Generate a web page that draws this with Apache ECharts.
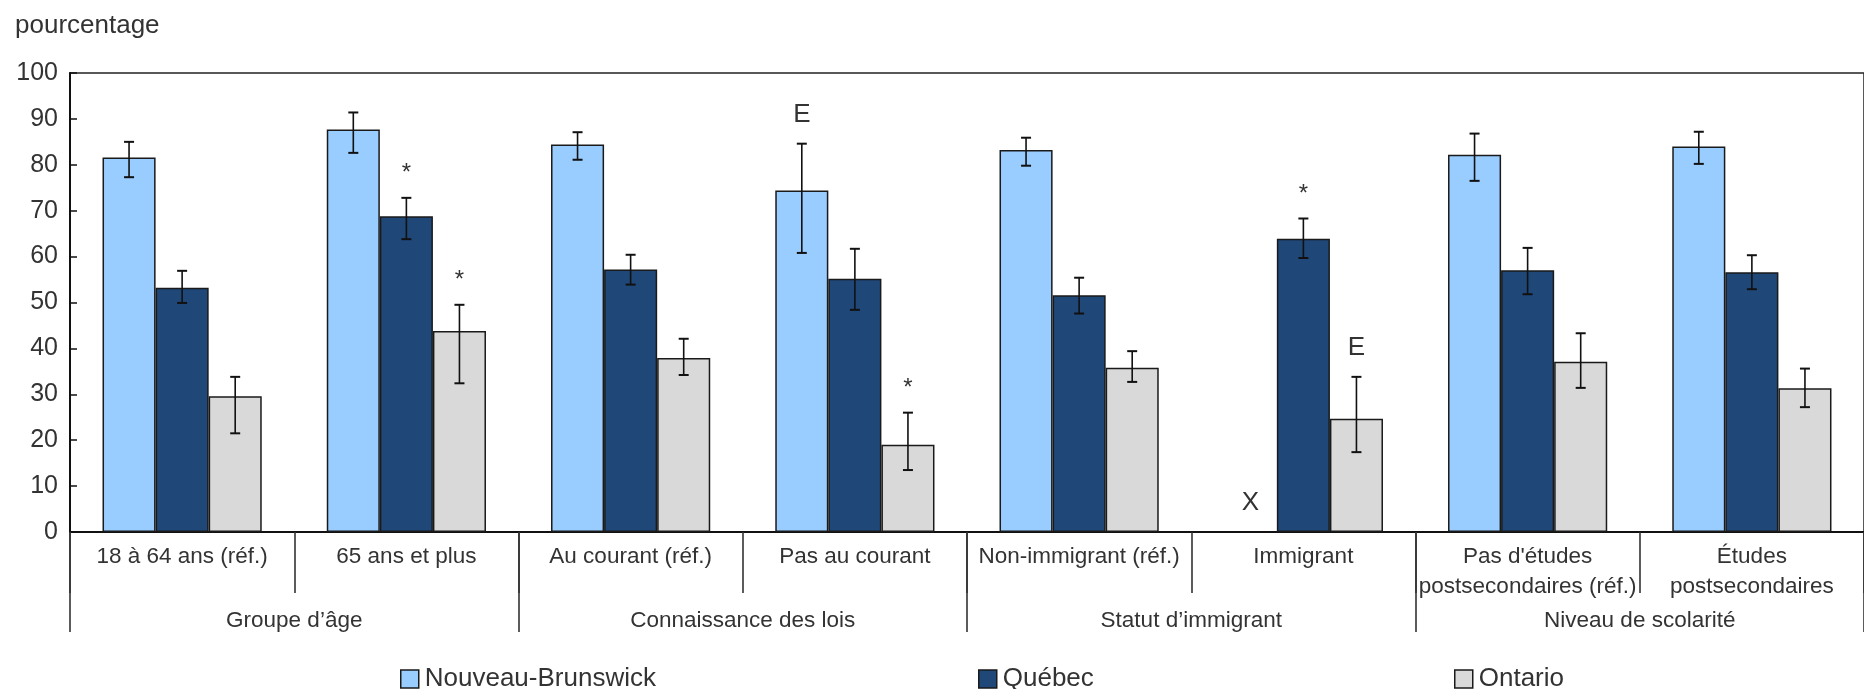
<!DOCTYPE html>
<html>
<head>
<meta charset="utf-8">
<script src="https://cdn.jsdelivr.net/npm/echarts@6/dist/echarts.min.js"></script>
<style>html,body{margin:0;padding:0;background:#fff;}#c{width:1864px;height:689px;}</style>
</head>
<body>
<div id="c"></div>
<script>
var categories = ['18 à 64 ans (réf.)', '65 ans et plus', 'Au courant (réf.)', 'Pas au courant', 'Non-immigrant (réf.)', 'Immigrant', "Pas d'études\npostsecondaires (réf.)", 'Études\npostsecondaires'];
var groups = ['Groupe d’âge', 'Connaissance des lois', 'Statut d’immigrant', 'Niveau de scolarité'];
var seriesNames = ['Nouveau-Brunswick', 'Québec', 'Ontario'];

var nbValues = [81.6, 87.7, 84.4, 74.4, 83.2, null, 82.2, 84.0];
var nbLow    = [77.3, 82.6, 81.1, 60.8, 79.8, 0, 76.5, 80.2];
var nbHigh   = [85.0, 91.4, 87.1, 84.6, 85.9, 0, 86.8, 87.2];
var nbFlags  = ['', '', '', 'E', '', 'X', '', ''];

var qcValues = [53.2, 68.8, 57.2, 55.2, 51.6, 63.9, 57.0, 56.6];
var qcLow    = [49.9, 63.8, 53.9, 48.4, 47.6, 59.7, 51.8, 52.9];
var qcHigh   = [56.9, 72.8, 60.4, 61.7, 55.4, 68.3, 61.9, 60.3];
var qcFlags  = ['', '*', '', '', '', '*', '', ''];

var onValues = [29.6, 43.8, 37.9, 19.0, 35.8, 24.7, 37.1, 31.3];
var onLow    = [21.5, 32.4, 34.2, 13.5, 32.7, 17.4, 31.4, 27.2];
var onHigh   = [33.8, 49.5, 42.1, 26.0, 39.4, 33.8, 43.3, 35.6];
var onFlags  = ['', '*', '', '*', '', 'E', '', ''];

var yTicks = [0, 10, 20, 30, 40, 50, 60, 70, 80, 90, 100];

var colors = ['#99CCFF', '#1F4778', '#D9D9D9'];
var FR = "'Liberation Sans', Arial, sans-serif";
var TXT = '#333333';
var GAP = 0.29;

var chart = echarts.init(document.getElementById('c'), null, {renderer: 'canvas'});

function errSeries(sIdx, low, high, flags) {
  var data = low.map(function (l, i) { return [i, l, high[i]]; });
  return {
    type: 'custom',
    name: 'err' + sIdx,
    xAxisIndex: 0, yAxisIndex: 0,
    z: 5,
    clip: false,
    encode: {x: 0, y: [1, 2]},
    data: data,
    renderItem: function (params, api) {
      var i = api.value(0);
      var lo = api.value(1), hi = api.value(2);
      var catW = api.size([1, 0])[0];
      var bw = catW * (1 - GAP) / 3;
      var cx = api.coord([i, 0])[0] + (sIdx - 1) * bw;
      var yLo = api.coord([i, lo])[1];
      var yHi = api.coord([i, hi])[1];
      var cap = 5;
      var ch = [
        {type: 'line', shape: {x1: cx, y1: yLo, x2: cx, y2: yHi}, style: {stroke: '#111', lineWidth: 1.6}},
        {type: 'line', shape: {x1: cx - cap, y1: yLo, x2: cx + cap, y2: yLo}, style: {stroke: '#111', lineWidth: 2}},
        {type: 'line', shape: {x1: cx - cap, y1: yHi, x2: cx + cap, y2: yHi}, style: {stroke: '#111', lineWidth: 2}}
      ];
      var f = flags[params.dataIndex];
      if (f) {
        var isStar = f === '*';
        ch.push({
          type: 'text',
          style: {
            text: f, x: cx, y: yHi - (isStar ? 24 : 29),
            align: 'center', verticalAlign: 'middle',
            font: (isStar ? '24px ' : '26px ') + FR, fill: TXT
          }
        });
      }
      return {type: 'group', children: ch};
    }
  };
}

function barSeries(idx, values) {
  return {
    type: 'bar',
    name: seriesNames[idx],
    data: values,
    barGap: '0%',
    barCategoryGap: (GAP * 100) + '%',
    itemStyle: {color: colors[idx], borderColor: '#1a1a1a', borderWidth: 1.5},
    emphasis: {disabled: true}
  };
}

function legendAt(name, left) {
  return {
    data: [name], left: left, top: 666, orient: 'horizontal',
    icon: 'rect', itemWidth: 18, itemHeight: 18, padding: 0,
    selectedMode: false,
    itemStyle: {borderColor: '#1a1a1a', borderWidth: 1.5},
    textStyle: {fontFamily: FR, fontSize: 26, color: TXT, padding: [0, 0, 0, 1]}
  };
}

var option = {
  backgroundColor: '#ffffff',
  animation: false,
  title: {
    text: 'pourcentage', left: 15, top: 13, padding: 0,
    textStyle: {fontFamily: FR, fontSize: 26, fontWeight: 'normal', color: TXT}
  },
  legend: [
    legendAt(seriesNames[0], 400),
    legendAt(seriesNames[1], 978),
    legendAt(seriesNames[2], 1454)
  ],
  grid: {
    left: 70, top: 73, width: 1815, height: 459,
    show: true, borderColor: '#222', borderWidth: 1.5, backgroundColor: 'transparent'
  },
  xAxis: [
    {
      type: 'category', data: categories, position: 'bottom',
      axisLine: {show: true, lineStyle: {color: '#111', width: 2}},
      axisTick: {show: true, interval: 0, length: 61, lineStyle: {color: '#333', width: 1.6}},
      axisLabel: {interval: 0, margin: 10, fontFamily: FR, fontSize: 22.5, lineHeight: 30, color: TXT},
      splitLine: {show: false}
    },
    {
      type: 'category', data: groups, position: 'bottom', offset: 0,
      axisLine: {show: false},
      axisTick: {show: true, interval: 0, length: 100, lineStyle: {color: '#333', width: 1.6}},
      axisLabel: {interval: 0, margin: 74, fontFamily: FR, fontSize: 22.5, lineHeight: 30, color: TXT},
      splitLine: {show: false}
    }
  ],
  yAxis: {
    type: 'value', min: 0, max: 100, interval: 10,
    axisLine: {show: true, lineStyle: {color: '#111', width: 2}},
    axisTick: {show: true, inside: true, length: 7, lineStyle: {color: '#111', width: 1.5}},
    axisLabel: {
      margin: 12, fontFamily: FR, fontSize: 25, color: TXT,
      formatter: function (v) { return yTicks.indexOf(v) >= 0 ? String(v) : ''; }
    },
    splitLine: {show: false}
  },
  series: [
    barSeries(0, nbValues),
    barSeries(1, qcValues),
    barSeries(2, onValues),
    errSeries(0, nbLow, nbHigh, nbFlags),
    errSeries(1, qcLow, qcHigh, qcFlags),
    errSeries(2, onLow, onHigh, onFlags)
  ]
};
chart.setOption(option);
</script>
</body>
</html>
